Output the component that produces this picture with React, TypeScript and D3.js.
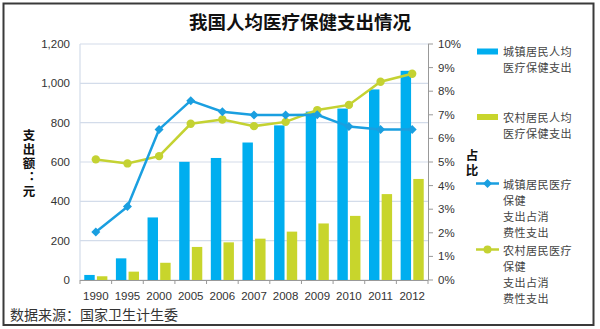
import React from "react";
import * as d3 from "d3";

const years = ["1990", "1995", "2000", "2005", "2006", "2007", "2008", "2009", "2010", "2011", "2012"];
const urbanSpend = [25.7, 110.1, 318.1, 600.9, 620.5, 699.1, 786.2, 856.4, 871.8, 969.0, 1063.7];
const ruralSpend = [19.0, 42.5, 87.6, 168.1, 191.5, 210.2, 246.0, 287.5, 326.0, 436.8, 513.8];
const urbanShare = [2.03, 3.11, 6.38, 7.6, 7.13, 6.99, 6.99, 7.0, 6.5, 6.38, 6.38];
const ruralShare = [5.11, 4.94, 5.25, 6.62, 6.8, 6.52, 6.7, 7.2, 7.42, 8.4, 8.74];
const leftTicks = [0, 200, 400, 600, 800, 1000, 1200];
const rightTicks = [0, 1, 2, 3, 4, 5, 6, 7, 8, 9, 10];

const BLUE = "#00aeef";
const YEL = "#c8d52c";
const LBLUE = "#1a9fe0";
const LYEL = "#c4d232";
const FONT = "Liberation Sans, Arial, sans-serif";
const CJK = "'Noto Sans CJK SC', sans-serif";

export default function App() {
  const W = 600, H = 329;
  const x0 = 80, x1 = 428, y0 = 280, y1 = 44;
  const xb = d3.scaleBand().domain(years).range([x0, x1]).paddingInner(0).paddingOuter(0);
  const yl = d3.scaleLinear().domain([0, 1200]).range([y0, y1]);
  const yr = d3.scaleLinear().domain([0, 10]).range([y0, y1]);
  const bw = xb.bandwidth();
  const barW = bw * 0.33;
  const gap = bw * 0.07;
  const startOff = (bw - 2 * barW - gap) / 2;
  const cx = (y: string) => (xb(y) as number) + bw / 2;
  const lineU = d3.line<number>().x((_, i) => cx(years[i])).y((d) => yr(d));
  const lineR = d3.line<number>().x((_, i) => cx(years[i])).y((d) => yr(d));

  const legText = (lines: string[], x: number, y: number) =>
    lines.map((t, i) => (
      <text key={i} x={x} y={y + i * 16.3} fontSize={11.1} letterSpacing={0.4} fill="#444" fontFamily={CJK} dominantBaseline="central">
        {t}
      </text>
    ));
  const vText = (s: string, x: number, yFirst: number, step: number) => (
    <text
      x={x}
      y={yFirst - 6.25}
      fontSize={12.5}
      letterSpacing={step - 12.5}
      fontWeight="bold"
      fontFamily={CJK}
      fill="#111"
      style={{ writingMode: "vertical-rl" } as any}
    >
      {s}
    </text>
  );

  return (
    <svg width={W} height={H} style={{ position: "absolute", left: 0, top: 0 }}>
      <rect x={0} y={0} width={W} height={H} fill="#fff" />
      <rect x={3.5} y={3.5} width={590} height={321.5} fill="none" stroke="#3a3a3a" strokeWidth={2} />
      <text x={300} y={21} textAnchor="middle" dominantBaseline="central" fontSize={18.5} fontWeight="bold" fontFamily={CJK} fill="#111">
        我国人均医疗保健支出情况
      </text>
      {leftTicks.map((t) => (
        <line key={t} x1={x0} x2={x1} y1={yl(t)} y2={yl(t)} stroke="#d3dcea" strokeWidth={1.2} />
      ))}
      <line x1={x0} x2={x0} y1={y1} y2={y0} stroke="#d3dcea" strokeWidth={1.2} />
      {leftTicks.map((t) => (
        <text key={t} x={70} y={yl(t)} textAnchor="end" dominantBaseline="central" fontSize={11.5} fill="#333" fontFamily={FONT}>
          {d3.format(",")(t)}
        </text>
      ))}
      {years.map((y, i) => (
        <g key={y}>
          <rect x={(xb(y) as number) + startOff} width={barW} y={yl(urbanSpend[i])} height={y0 - yl(urbanSpend[i])} fill={BLUE} />
          <rect x={(xb(y) as number) + startOff + barW + gap} width={barW} y={yl(ruralSpend[i])} height={y0 - yl(ruralSpend[i])} fill={YEL} />
        </g>
      ))}
      <line x1={x0} x2={x1} y1={y0 + 0.5} y2={y0 + 0.5} stroke="#999" strokeWidth={1} />
      {[...years.map((y) => xb(y) as number), x1].map((v, i) => (
        <line key={i} x1={v} x2={v} y1={y0} y2={y0 + 4} stroke="#999" />
      ))}
      <line x1={x1 + 0.5} x2={x1 + 0.5} y1={y1} y2={y0} stroke="#999" strokeWidth={1} />
      {rightTicks.map((t) => (
        <g key={t}>
          <line x1={x1} x2={x1 + 5} y1={yr(t)} y2={yr(t)} stroke="#999" />
          <text x={438} y={yr(t)} dominantBaseline="central" fontSize={11.5} fill="#333" fontFamily={FONT}>
            {t}%
          </text>
        </g>
      ))}
      {years.map((y) => (
        <text key={y} x={cx(y)} y={296} textAnchor="middle" dominantBaseline="central" fontSize={11.5} fill="#333" fontFamily={FONT}>
          {y}
        </text>
      ))}
      <path d={lineR(ruralShare) || ""} fill="none" stroke={LYEL} strokeWidth={2.5} />
      <path d={lineU(urbanShare) || ""} fill="none" stroke={LBLUE} strokeWidth={2.5} />
      {ruralShare.map((v, i) => (
        <circle key={i} cx={cx(years[i])} cy={yr(v)} r={4.2} fill={LYEL} />
      ))}
      {urbanShare.map((v, i) => (
        <path key={i} d={`M${cx(years[i])},${yr(v) - 4.5}l4.5,4.5l-4.5,4.5l-4.5,-4.5z`} fill={LBLUE} />
      ))}
      {vText("支出额：元", 29, 135, 14)}
      {vText("占比", 472, 155, 15)}
      <rect x={477} y={48.5} width={21} height={6} fill={BLUE} />
      {legText(["城镇居民人均", "医疗保健支出"], 503, 51)}
      <rect x={477} y={114} width={21} height={6} fill={YEL} />
      {legText(["农村居民人均", "医疗保健支出"], 503, 117)}
      <line x1={476} x2={499} y1={183.5} y2={183.5} stroke={LBLUE} strokeWidth={2.5} />
      <path d={`M487.5,179l4.5,4.5l-4.5,4.5l-4.5,-4.5z`} fill={LBLUE} />
      {legText(["城镇居民医疗", "保健", "支出占消", "费性支出"], 503, 183.5)}
      <line x1={476} x2={499} y1={249.5} y2={249.5} stroke={LYEL} strokeWidth={2.5} />
      <circle cx={487.5} cy={249.5} r={4} fill={LYEL} />
      {legText(["农村居民医疗", "保健", "支出占消", "费性支出"], 503, 249.5)}
      <text x={10} y={314} dominantBaseline="central" fontSize={14} fill="#333" fontFamily={CJK}>
        数据来源：国家卫生计生委
      </text>
    </svg>
  );
}
